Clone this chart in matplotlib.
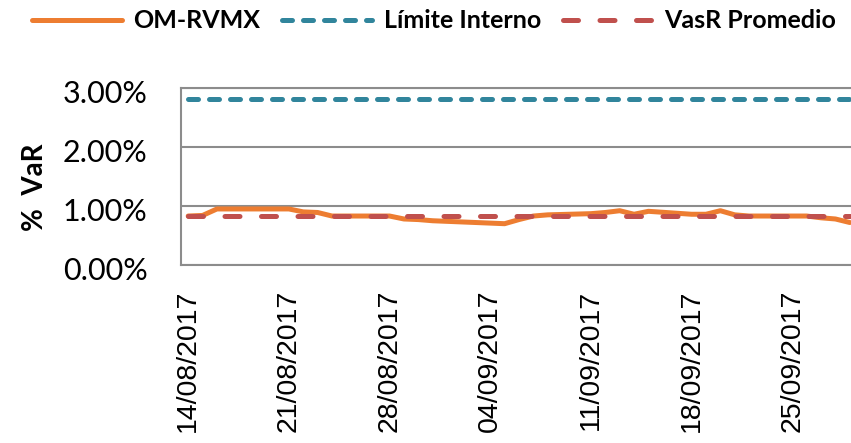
import matplotlib.pyplot as plt
import matplotlib.dates as mdates
import matplotlib.transforms as mtransforms
import numpy as np
import pandas as pd

OUT_PNG = "out.png"

# business days shown on the chart
DATES = pd.bdate_range("2017-08-14", "2017-09-29")

# OM-RVMX daily VaR (%)
VAR_OM = [
    0.83, 0.84, 0.95, 0.95, 0.95,
    0.95, 0.90, 0.89, 0.83, 0.83,
    0.83, 0.78, 0.77, 0.75, 0.74,
    0.71, 0.70, 0.77, 0.83, 0.85,
    0.87, 0.89, 0.92, 0.86, 0.91,
    0.86, 0.86, 0.92, 0.85, 0.83,
    0.83, 0.83, 0.80, 0.78, 0.72,
]
LIMITE_INTERNO = 2.82
VASR_PROMEDIO = 0.83

YTICKS = [0.0, 1.0, 2.0, 3.0]
XTICKS = pd.date_range("2017-08-14", "2017-09-25", freq="7D")

C_OM = "#ED7D31"
C_LIM = "#31859C"
C_VASR = "#C0504D"
C_GRID = "#8C8C8C"


def main():
    fig = plt.figure(figsize=(8.51, 4.43), dpi=100)
    # right side of the plot area is cut off by the image edge
    ax = fig.add_axes([181 / 851, 1 - 265 / 443, 676 / 851, 177 / 443])

    x = mdates.date2num(DATES)
    om = np.array(VAR_OM) / 100

    ax.plot(x, om, color=C_OM, lw=3.6, solid_capstyle="round",
            solid_joinstyle="round", label="OM-RVMX", zorder=3)
    ax.plot(x, np.full(len(x), LIMITE_INTERNO / 100), color=C_LIM, lw=3.6,
            dashes=(2.0, 2.2), dash_capstyle="round", label="Límite Interno",
            zorder=4)
    ax.plot(x, np.full(len(x), VASR_PROMEDIO / 100), color=C_VASR, lw=3.6,
            dashes=(3.0, 4.3), dash_capstyle="round", label="VasR Promedio",
            zorder=4)

    ax.set_xlim(x[0] - 0.5, x[-1] + 0.5)
    ax.set_ylim(0, 0.03)
    ax.set_yticks([v / 100 for v in YTICKS])
    ax.set_yticklabels([f"{v:.2f}%" for v in YTICKS], family="Lato", fontsize=22)
    ax.set_xticks(mdates.date2num(XTICKS))
    ax.set_xticklabels([d.strftime("%d/%m/%Y") for d in XTICKS], rotation=90,
                       family="Liberation Sans", fontsize=20.5)
    ax.tick_params(axis="both", length=0)
    ax.tick_params(axis="y", pad=24)
    ax.tick_params(axis="x", pad=18)

    # Excel-style labels sit a little below their gridlines
    shift = mtransforms.ScaledTranslation(0, -4 / 100, fig.dpi_scale_trans)
    for lbl in ax.get_yticklabels():
        lbl.set_transform(lbl.get_transform() + shift)

    ax.grid(axis="y", color=C_GRID, lw=1.5)
    ax.set_axisbelow(True)
    for side in ["left", "bottom", "top", "right"]:
        ax.spines[side].set_color(C_GRID)
        ax.spines[side].set_linewidth(1.5)

    fig.text(35 / 851, 1 - 187 / 443, "%  VaR", rotation=90, ha="center",
             va="center", family="Lato", fontweight="bold", fontsize=20)

    fig.legend(loc="center", bbox_to_anchor=(0.51, 1 - 21 / 443), ncol=3,
               frameon=False, handlelength=3.6, handletextpad=0.45,
               columnspacing=0.9,
               prop={"family": "Lato", "weight": "bold", "size": 18})

    fig.savefig(OUT_PNG, dpi=100)


if __name__ == "__main__":
    main()
